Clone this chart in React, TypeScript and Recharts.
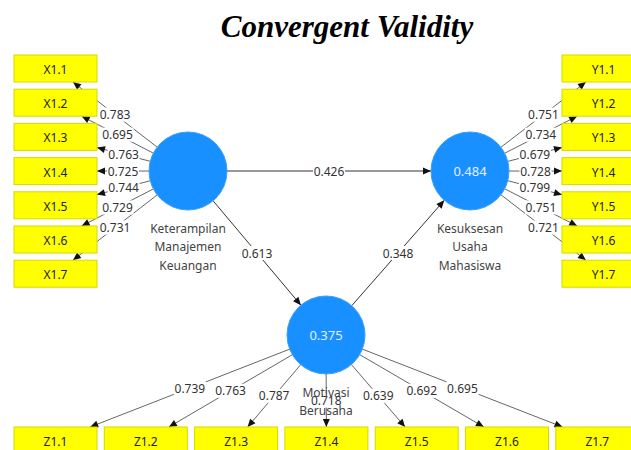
import { ScatterChart, Scatter, XAxis, YAxis } from 'recharts'

const W = 631
const H = 450

// indicator names and outer loadings
const xIndicators = ['X1.1', 'X1.2', 'X1.3', 'X1.4', 'X1.5', 'X1.6', 'X1.7']
const xLoadings = [0.783, 0.695, 0.763, 0.725, 0.744, 0.729, 0.731]
const yIndicators = ['Y1.1', 'Y1.2', 'Y1.3', 'Y1.4', 'Y1.5', 'Y1.6', 'Y1.7']
const yLoadings = [0.751, 0.734, 0.679, 0.728, 0.799, 0.751, 0.721]
const zIndicators = ['Z1.1', 'Z1.2', 'Z1.3', 'Z1.4', 'Z1.5', 'Z1.6', 'Z1.7']
const zLoadings = [0.739, 0.763, 0.787, 0.718, 0.639, 0.692, 0.695]

// constructs: 0 = X, 1 = Y, 2 = Z
const constructNames = [
  ['Keterampilan', 'Manajemen', 'Keuangan'],
  ['Kesuksesan', 'Usaha', 'Mahasiswa'],
  ['Motivasi', 'Berusaha'],
]
const rSquared: (number | null)[] = [null, 0.484, 0.375]

// inner model paths
const pathFrom = [0, 0, 2]
const pathTo = [1, 2, 1]
const pathCoefs = [0.426, 0.613, 0.348]

// layout
const circlePos = [
  { x: 188, y: 171 },
  { x: 470, y: 171 },
  { x: 326, y: 335 },
]
const R = 39
const BOX_W = 83
const BOX_H = 27
const rowY0 = 68.5
const rowStep = 34.2
const colX0 = 55.5
const colStep = 90.3

const fmt = (v: number) => v.toFixed(3)

type Pt = { x: number; y: number }

const xBoxes = xIndicators.map((name, i) => ({ name, x: colX0, y: rowY0 + rowStep * i }))
const yBoxes = yIndicators.map((name, i) => ({ name, x: 603.5, y: rowY0 + rowStep * i }))
const zBoxes = zIndicators.map((name, i) => ({ name, x: colX0 + colStep * i, y: 440.5 }))

function clipToBox(from: Pt, box: Pt): Pt {
  const dx = box.x - from.x
  const dy = box.y - from.y
  const t = Math.min(BOX_W / 2 / Math.abs(dx), BOX_H / 2 / Math.abs(dy))
  return { x: box.x - dx * t, y: box.y - dy * t }
}

type Edge = { a: Pt; b: Pt; value: number; strong: boolean }

function outerEdges(c: Pt, boxes: Pt[], loadings: number[]): Edge[] {
  return boxes.map((b, i) => {
    const dx = b.x - c.x
    const dy = b.y - c.y
    const len = Math.hypot(dx, dy)
    const a = { x: c.x + (dx / len) * R, y: c.y + (dy / len) * R }
    return { a, b: clipToBox(c, b), value: loadings[i], strong: false }
  })
}

const innerEdges: Edge[] = pathCoefs.map((v, i) => {
  const p = circlePos[pathFrom[i]]
  const q = circlePos[pathTo[i]]
  const dx = q.x - p.x
  const dy = q.y - p.y
  const len = Math.hypot(dx, dy)
  return {
    a: { x: p.x + (dx / len) * R, y: p.y + (dy / len) * R },
    b: { x: q.x - (dx / len) * R, y: q.y - (dy / len) * R },
    value: v,
    strong: true,
  }
})

const edges: Edge[] = [
  ...outerEdges(circlePos[0], xBoxes, xLoadings),
  ...outerEdges(circlePos[1], yBoxes, yLoadings),
  ...outerEdges(circlePos[2], zBoxes, zLoadings),
  ...innerEdges,
]

const arrows = edges.map((e) => ({
  x: e.b.x,
  y: e.b.y,
  angle: (Math.atan2(e.b.y - e.a.y, e.b.x - e.a.x) * 180) / Math.PI,
}))

const labels = edges.map((e) => ({
  x: (e.a.x + e.b.x) / 2,
  y: (e.a.y + e.b.y) / 2,
  text: fmt(e.value),
}))

const boxes = [...xBoxes, ...yBoxes, ...zBoxes]

const circles = circlePos.map((p, i) => ({
  ...p,
  names: constructNames[i],
  r2: rSquared[i],
}))

const FONT = "'Noto Sans', 'Open Sans', sans-serif"

const ArrowShape = (props: any) => {
  const { cx, cy, payload } = props
  return (
    <polygon
      points="0,0 -8,-3.5 -8,3.5"
      fill="#111"
      transform={`translate(${cx},${cy}) rotate(${payload.angle})`}
    />
  )
}

const LabelShape = (props: any) => {
  const { cx, cy, payload } = props
  return (
    <g>
      <rect x={cx - 16} y={cy - 7} width={32} height={14} fill="#fff" />
      <text
        x={cx}
        y={cy}
        textAnchor="middle"
        dominantBaseline="central"
        fontFamily={FONT}
        fontSize={12}
        fill="#333"
      >
        {payload.text}
      </text>
    </g>
  )
}

const BoxShape = (props: any) => {
  const { cx, cy, payload } = props
  return (
    <g>
      <rect
        x={cx - BOX_W / 2}
        y={cy - BOX_H / 2}
        width={BOX_W}
        height={BOX_H}
        fill="#ffff00"
        stroke="#d8d800"
        strokeWidth={1}
      />
      <text
        x={cx}
        y={cy + 1}
        textAnchor="middle"
        dominantBaseline="central"
        fontFamily={FONT}
        fontSize={12}
        fill="#222"
      >
        {payload.name}
      </text>
    </g>
  )
}

const CircleShape = (props: any) => {
  const { cx, cy, payload } = props
  return (
    <g>
      <circle cx={cx} cy={cy} r={R} fill="#1890ff" stroke="#3a9dff" strokeWidth={1} />
      {payload.r2 != null && (
        <text
          x={cx}
          y={cy}
          textAnchor="middle"
          dominantBaseline="central"
          fontFamily={FONT}
          fontSize={13}
          fill="#e6f0ff"
        >
          {fmt(payload.r2)}
        </text>
      )}
      {payload.names.map((n: string, i: number) => (
        <text
          key={n}
          x={cx}
          y={cy + 57 + i * 18.5}
          textAnchor="middle"
          dominantBaseline="central"
          fontFamily={FONT}
          fontSize={12}
          fill="#444"
        >
          {n}
        </text>
      ))}
    </g>
  )
}

export default function App() {
  return (
    <div style={{ position: 'absolute', left: 0, top: 0, width: W, height: H, background: '#fff' }}>
      <ScatterChart width={W} height={H} margin={{ top: 0, right: 0, bottom: 0, left: 0 }}>
        <XAxis type="number" dataKey="x" domain={[0, W]} hide allowDataOverflow />
        <YAxis type="number" dataKey="y" domain={[0, H]} reversed hide allowDataOverflow />
        {edges.map((e, i) => (
          <Scatter
            key={`edge-${i}`}
            data={[e.a, e.b]}
            line={{ stroke: e.strong ? '#333' : '#666', strokeWidth: 1 }}
            shape={() => <g />}
            isAnimationActive={false}
            legendType="none"
          />
        ))}
        <Scatter data={labels} shape={LabelShape} isAnimationActive={false} legendType="none" />
        <Scatter data={arrows} shape={ArrowShape} isAnimationActive={false} legendType="none" />
        <Scatter data={boxes} shape={BoxShape} isAnimationActive={false} legendType="none" />
        <Scatter data={circles} shape={CircleShape} isAnimationActive={false} legendType="none" />
      </ScatterChart>
      <div
        style={{
          position: 'absolute',
          left: 0,
          width: 694,
          top: 11,
          textAlign: 'center',
          fontFamily: "'Liberation Serif', 'Times New Roman', serif",
          fontWeight: 'bold',
          fontStyle: 'italic',
          fontSize: 31,
          lineHeight: '31px',
          color: '#000',
        }}
      >
        Convergent Validity
      </div>
    </div>
  )
}
